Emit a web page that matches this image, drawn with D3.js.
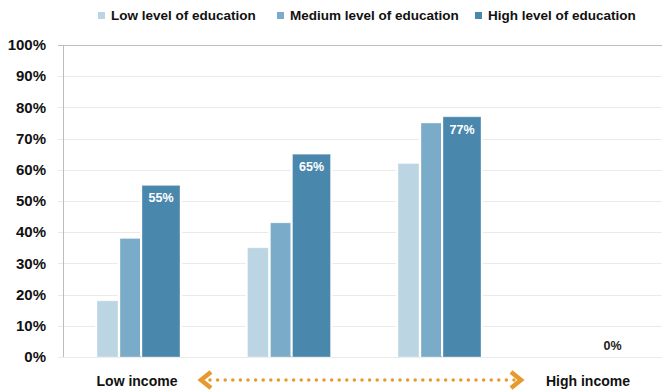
<!DOCTYPE html>
<html>
<head>
<meta charset="utf-8">
<script src="https://cdn.jsdelivr.net/npm/d3@7"></script>
<style>
  body { margin: 0; background: #fff; }
  svg { font-family: "Liberation Sans", Arial, Helvetica, sans-serif; }
</style>
</head>
<body>
<div id="chart"></div>
<script>
// ========== data ==========
const groups = ['g1', 'g2', 'g3', 'g4'];
const seriesNames = ['Low level of education', 'Medium level of education', 'High level of education'];
const lowVals = [18, 35, 62, 0];
const medVals = [38, 43, 75, 0];
const highVals = [55, 65, 77, 0];
const yTicks = [0, 10, 20, 30, 40, 50, 60, 70, 80, 90, 100];
const colors = ['#BCD5E2', '#7AABC8', '#4A87AD'];

// ========== size ==========
const W = 662, H = 392;
const margin = {top: 45, right: 0, bottom: 35, left: 63};

const svg = d3.select('#chart').append('svg')
  .attr('width', W).attr('height', H);

const y = d3.scaleLinear().domain([0, 100]).range([357, 45]);
const x = d3.scaleBand().domain(groups).range([margin.left, margin.left + 602]);

// gridlines
svg.append('g')
  .selectAll('line')
  .data(yTicks)
  .enter().append('line')
  .attr('x1', 58).attr('x2', W)
  .attr('y1', d => Math.round(y(d)) + 0.5).attr('y2', d => Math.round(y(d)) + 0.5)
  .attr('stroke', d => d === 100 ? '#BDBDBD' : '#EAEAEA')
  .attr('stroke-width', 1);

// y axis line
svg.append('line')
  .attr('x1', 63.5).attr('x2', 63.5)
  .attr('y1', y(100)).attr('y2', y(0))
  .attr('stroke', '#BDBDBD');

// tick labels
svg.append('g')
  .selectAll('text')
  .data(yTicks)
  .enter().append('text')
  .attr('x', 46)
  .attr('y', d => y(d))
  .attr('dy', '0.35em')
  .attr('text-anchor', 'end')
  .style('font-size', '15px')
  .style('font-weight', 'bold')
  .style('fill', '#111')
  .text(d => d + '%');

// bars: offsets/widths within each 150px band
const barSpec = [
  {vals: lowVals, off: 34, w: 21},
  {vals: medVals, off: 57, w: 21},
  {vals: highVals, off: 79, w: 38}
];

barSpec.forEach((s, si) => {
  const data = groups.map((g, i) => ({g: g, v: s.vals[i]})).filter(d => d.v > 0);
  // white halo so gridlines stop short of the bars
  svg.append('g')
    .selectAll('rect')
    .data(data)
    .enter().append('rect')
    .attr('x', d => x(d.g) + s.off - 2)
    .attr('y', d => y(d.v) - 1)
    .attr('width', s.w + 4)
    .attr('height', d => y(0) - y(d.v))
    .attr('fill', '#fff');
  svg.append('g')
    .selectAll('rect')
    .data(data)
    .enter().append('rect')
    .attr('x', d => x(d.g) + s.off)
    .attr('y', d => y(d.v))
    .attr('width', s.w)
    .attr('height', d => y(0) - y(d.v))
    .attr('fill', colors[si])
    .attr('stroke', 'rgba(255,255,255,0.35)')
    .attr('stroke-width', 1);
});

// labels on high bars
svg.append('g')
  .selectAll('text')
  .data(groups.map((g, i) => ({g: g, v: highVals[i]})))
  .enter().append('text')
  .attr('x', d => x(d.g) + 79 + 19)
  .attr('y', d => d.v > 0 ? y(d.v) + 17 : y(0) - 7)
  .attr('text-anchor', 'middle')
  .style('font-size', '12.5px')
  .style('font-weight', 'bold')
  .style('fill', d => d.v > 0 ? '#fff' : '#222')
  .text(d => d.v + '%');

// legend
const legX = [98, 277, 475];
const leg = svg.append('g');
seriesNames.forEach((n, i) => {
  leg.append('rect')
    .attr('x', legX[i]).attr('y', 12)
    .attr('width', 7).attr('height', 7)
    .attr('fill', colors[i]);
  leg.append('text')
    .attr('x', legX[i] + 13).attr('y', 15.5)
    .attr('dy', '0.35em')
    .style('font-size', '13.5px')
    .style('font-weight', 'bold')
    .style('fill', '#111')
    .text(n);
});

// bottom: income labels + arrow
svg.append('text')
  .attr('x', 137).attr('y', 381).attr('dy', '0.35em')
  .attr('text-anchor', 'middle')
  .style('font-size', '14px').style('font-weight', 'bold').style('fill', '#111')
  .text('Low income');
svg.append('text')
  .attr('x', 588).attr('y', 381).attr('dy', '0.35em')
  .attr('text-anchor', 'middle')
  .style('font-size', '14px').style('font-weight', 'bold').style('fill', '#111')
  .text('High income');

const orange = '#E69A2E';
svg.append('line')
  .attr('x1', 210).attr('x2', 514)
  .attr('y1', 380).attr('y2', 380)
  .attr('stroke', orange)
  .attr('stroke-width', 3.5)
  .attr('stroke-linecap', 'round')
  .attr('stroke-dasharray', '0,7.6');
svg.append('path')
  .attr('d', 'M211,372 L201,380 L211,388')
  .attr('fill', 'none').attr('stroke', orange).attr('stroke-width', 4.5);
svg.append('path')
  .attr('d', 'M511,372 L521,380 L511,388')
  .attr('fill', 'none').attr('stroke', orange).attr('stroke-width', 4.5);
</script>
</body>
</html>
